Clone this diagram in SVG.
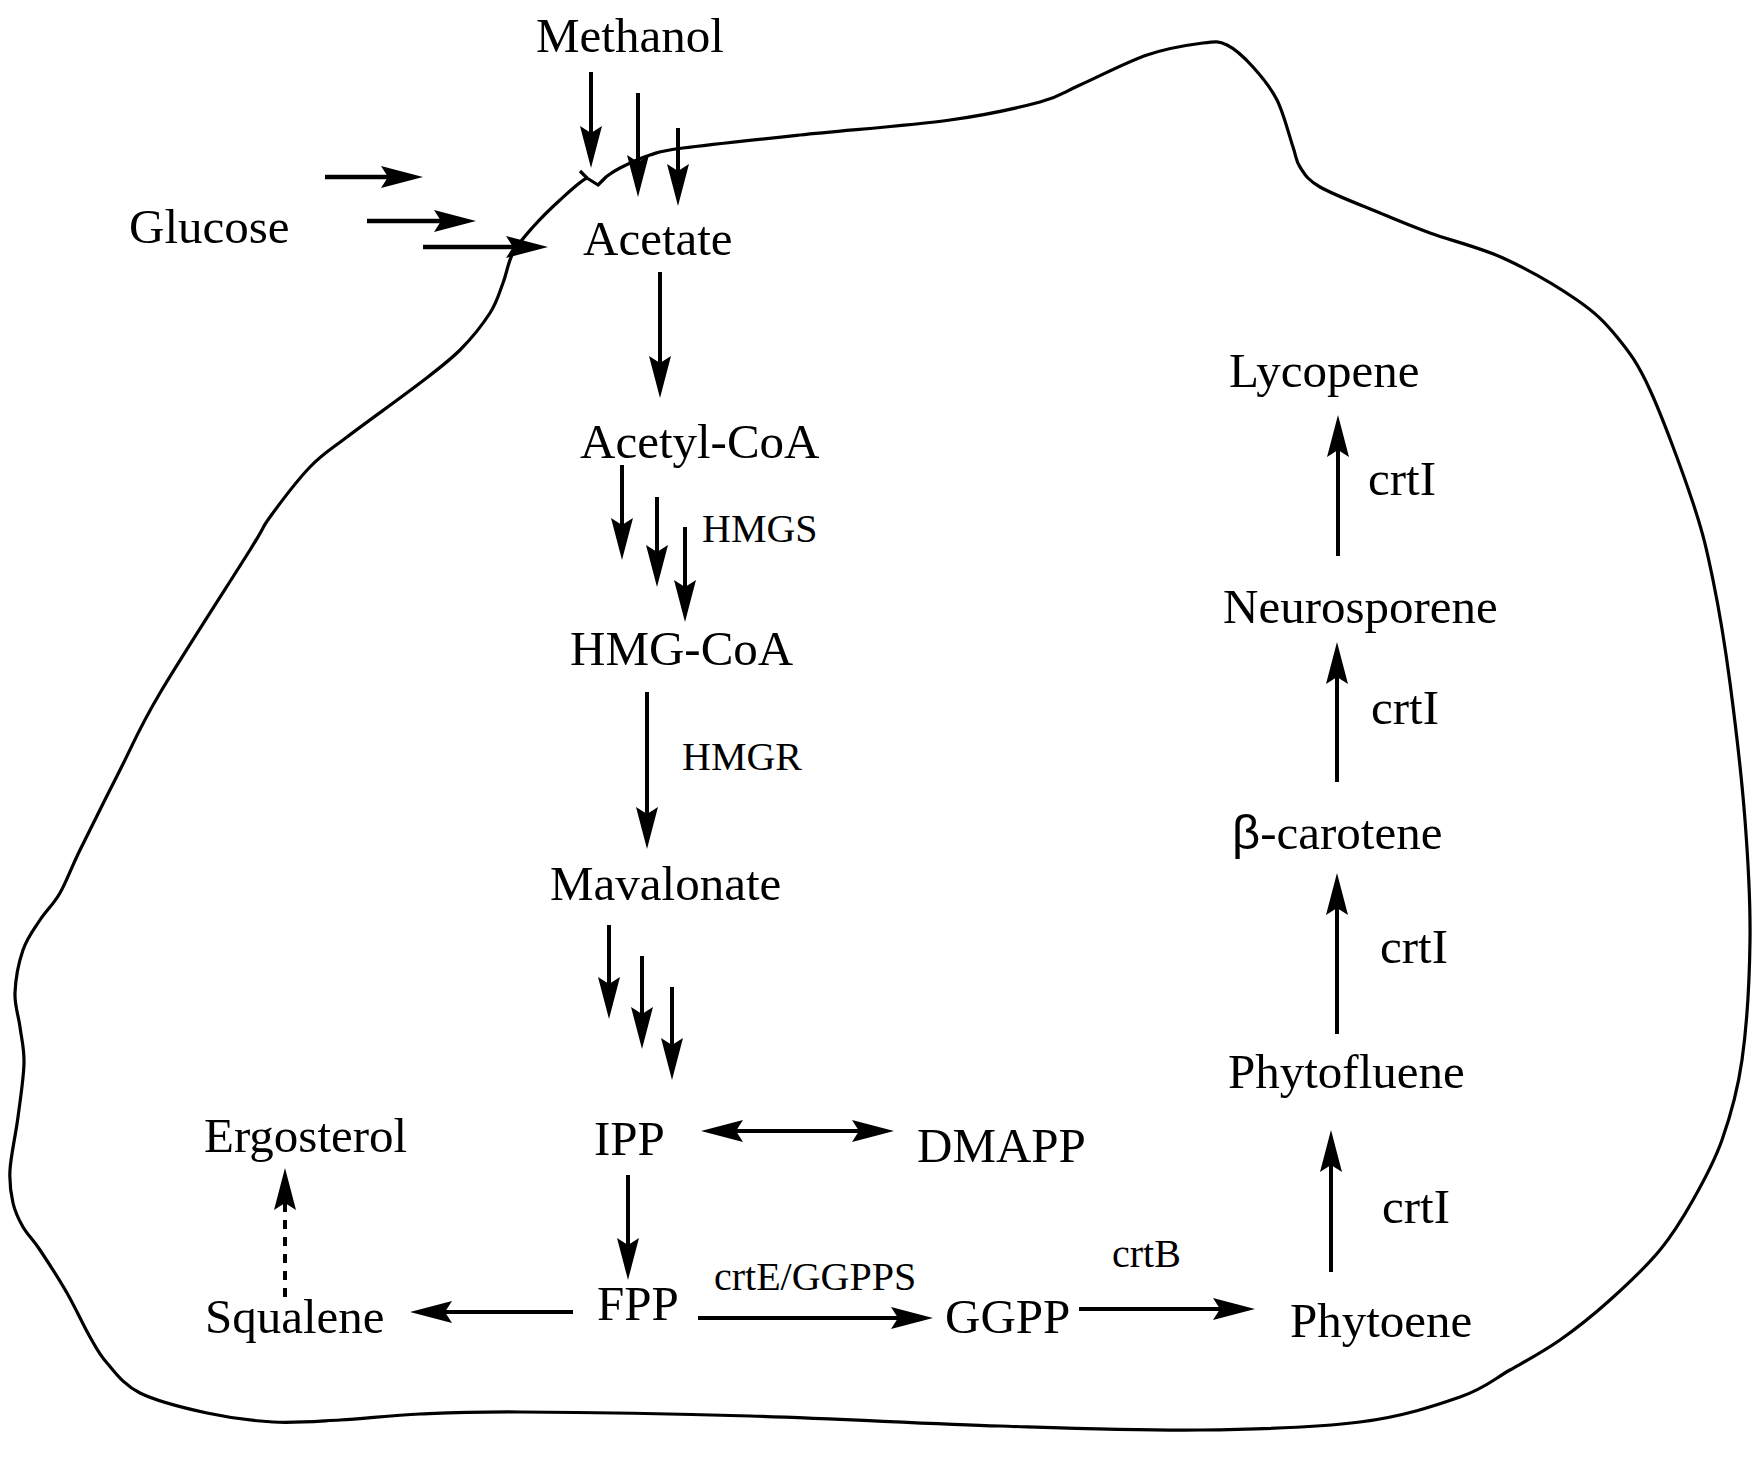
<svg xmlns="http://www.w3.org/2000/svg" width="1759" height="1457" viewBox="0 0 1759 1457">
<style>
text{font-family:"Liberation Serif","Times New Roman",serif;fill:#000}
.big{font-size:49px}
.sm{font-size:40px}
.arr{stroke:#000;stroke-width:4;fill:none;marker-end:url(#ah)}
.dash{stroke-dasharray:9 8}
.both{marker-start:url(#ah)}
.mem{stroke:#000;stroke-width:3.2;fill:none;stroke-linejoin:round}
</style>
<defs>
<marker id="ah" markerUnits="userSpaceOnUse" markerWidth="44" markerHeight="24" viewBox="0 -12 44 24" refX="12" refY="0" orient="auto-start-reverse">
<path d="M42,0 L0,-11 L7,0 L0,11 Z" fill="#000"/>
</marker>
</defs>
<g id="membrane">
<path class="mem" d="M606,177 C609.8,174.3 612.7,171.7 620,168 S639.5,158.3 650,155 S658,151.3 683,148 S755.5,139.7 800,135 S910,125.5 950,120 S1018.3,107.8 1040,102 S1062.2,92.8 1080,85 S1126.5,62 1147,55 S1189.7,44.7 1203,43 S1218.7,41 1227,45 S1244.7,57.8 1253,67 S1270.3,86.7 1277,100 S1289.2,135.8 1293,147 S1295.5,160.3 1300,167 S1306.7,179.3 1320,187 S1361.7,205.3 1380,213 S1409.5,225.5 1430,233 S1478.5,246.8 1503,258 S1558,286.8 1577,300 S1604.8,322 1617,337 S1637.3,362.3 1650,390 S1682.5,471.3 1693,503 S1706.8,550 1713,580 S1724.7,643 1730,683 S1741.7,777.2 1745,820 S1750.5,900 1750,940 S1746.7,1026.7 1742,1060 S1730.2,1116.7 1722,1140 S1703.3,1181.7 1693,1200 S1673.8,1233.3 1660,1250 S1626.7,1285 1610,1300 S1576.7,1328.3 1560,1340 S1526.7,1360.5 1510,1370 S1485,1388.3 1460,1397 S1403.3,1416.5 1360,1422 S1260,1429.3 1200,1430 S1075,1428.3 1000,1426 S830,1418.3 750,1416 S575,1412.3 520,1412 S450,1412.7 420,1414 S364.5,1418.7 340,1420 S295.2,1423.2 273,1422 S229.2,1417.8 207,1413 S156.7,1401.3 140,1393 S115.3,1372.3 107,1363 S96.7,1348.7 90,1337 S75.3,1307.5 67,1293 S47.3,1261 40,1250 S27.5,1234.8 23,1227 S15.2,1212.5 13,1203 S9.2,1184.3 10,1170 S15.7,1134.8 18,1117 S23.7,1078 24,1063 S21.5,1038.7 20,1027 S14.5,1005.8 15,993 S18.8,962.2 23,950 S33.8,929.5 40,920 S53.3,904.7 60,893 S70,870.5 80,850 S106.7,796.2 120,770 S138.3,729.7 160,693 S231.7,579.3 250,550 S260,530.8 270,517 S297.2,480.3 310,467 S328.7,451 347,437 S401.2,397.5 420,383 S448.3,361.7 460,350 S482.8,324.2 490,313 S499.2,293 503,283 S508,262.3 513,253 S525.2,235.8 533,227 S551,208.2 560,200 S580.8,180.7 587,178 L598,185 Z"/>
<path class="mem" d="M580,171 L587,178"/>
</g>
<g id="connectors">
<line class="arr" x1="325" y1="177" x2="393" y2="177" style="stroke-width:4.5"/>
<line class="arr" x1="367" y1="221" x2="446" y2="221" style="stroke-width:4.5"/>
<line class="arr" x1="423" y1="247" x2="518" y2="247" style="stroke-width:4.5"/>
<line class="arr" x1="591" y1="72" x2="591" y2="138"/>
<line class="arr" x1="638" y1="93" x2="638" y2="167"/>
<line class="arr" x1="678" y1="128" x2="678" y2="176"/>
<line class="arr" x1="660" y1="272" x2="660" y2="368"/>
<line class="arr" x1="622" y1="465" x2="622" y2="530"/>
<line class="arr" x1="657" y1="497" x2="657" y2="557"/>
<line class="arr" x1="685" y1="527" x2="685" y2="592"/>
<line class="arr" x1="647" y1="692" x2="647" y2="819"/>
<line class="arr" x1="609" y1="925" x2="609" y2="989"/>
<line class="arr" x1="642" y1="956" x2="642" y2="1019"/>
<line class="arr" x1="672" y1="987" x2="672" y2="1050"/>
<line class="arr both" x1="731" y1="1131" x2="864" y2="1131"/>
<line class="arr" x1="628" y1="1175" x2="628" y2="1250"/>
<line class="arr" x1="573" y1="1312" x2="440" y2="1312"/>
<line class="arr" x1="698" y1="1318" x2="903" y2="1318"/>
<line class="arr" x1="1079" y1="1309" x2="1225" y2="1309"/>
<line class="arr dash" x1="285" y1="1297" x2="285" y2="1198"/>
<line class="arr" x1="1331" y1="1272" x2="1331" y2="1160"/>
<line class="arr" x1="1337" y1="1034" x2="1337" y2="903"/>
<line class="arr" x1="1337" y1="782" x2="1337" y2="672"/>
<line class="arr" x1="1338" y1="556" x2="1338" y2="445"/>
</g>
<g id="methanol"><text class="big" x="536" y="52">Methanol</text></g>
<g id="glucose"><text class="big" x="129" y="243">Glucose</text></g>
<g id="acetate"><text class="big" x="583" y="255">Acetate</text></g>
<g id="acetyl-coa"><text class="big" x="580" y="458">Acetyl-CoA</text></g>
<g id="label-hmgs"><text class="sm" x="702" y="542">HMGS</text></g>
<g id="hmg-coa"><text class="big" x="570" y="665">HMG-CoA</text></g>
<g id="label-hmgr"><text class="sm" x="682" y="770">HMGR</text></g>
<g id="mavalonate"><text class="big" x="550" y="900">Mavalonate</text></g>
<g id="ipp"><text class="big" x="594" y="1155">IPP</text></g>
<g id="dmapp"><text class="big" x="917" y="1162">DMAPP</text></g>
<g id="ergosterol"><text class="big" x="204" y="1152">Ergosterol</text></g>
<g id="squalene"><text class="big" x="205" y="1333">Squalene</text></g>
<g id="fpp"><text class="big" x="597" y="1320">FPP</text></g>
<g id="label-crte"><text class="sm" x="714" y="1290">crtE/GGPPS</text></g>
<g id="ggpp"><text class="big" x="945" y="1333">GGPP</text></g>
<g id="label-crtb"><text class="sm" x="1112" y="1267">crtB</text></g>
<g id="phytoene"><text class="big" x="1290" y="1337">Phytoene</text></g>
<g id="phytofluene"><text class="big" x="1228" y="1088">Phytofluene</text></g>
<g id="beta-carotene"><text class="big" x="1232" y="849"><tspan style="font-family:'Liberation Sans',Arial,sans-serif">β</tspan>-carotene</text></g>
<g id="neurosporene"><text class="big" x="1223" y="623">Neurosporene</text></g>
<g id="lycopene"><text class="big" x="1229" y="387">Lycopene</text></g>
<g id="label-crti-1"><text class="big" x="1368" y="495">crtI</text></g>
<g id="label-crti-2"><text class="big" x="1371" y="724">crtI</text></g>
<g id="label-crti-3"><text class="big" x="1380" y="963">crtI</text></g>
<g id="label-crti-4"><text class="big" x="1382" y="1223">crtI</text></g>
</svg>
